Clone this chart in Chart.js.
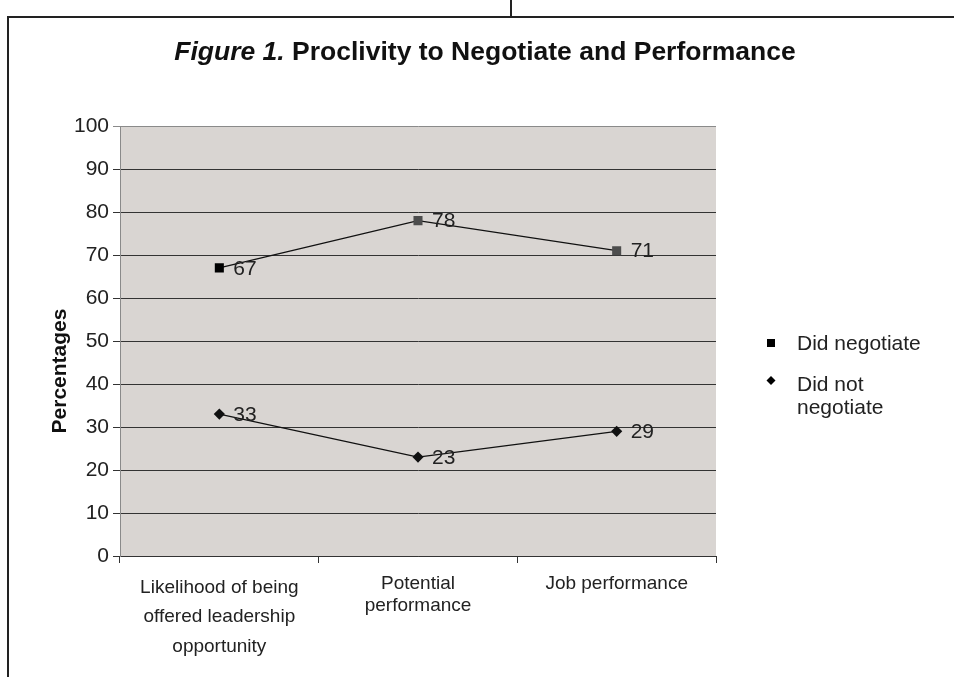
<!DOCTYPE html>
<html>
<head>
<meta charset="utf-8">
<script src="https://cdn.jsdelivr.net/npm/chart.js@4/dist/chart.umd.min.js"></script>
<style>
  html, body { margin: 0; padding: 0; background: #ffffff; }
  #wrap { position: relative; width: 954px; height: 677px; }
</style>
</head>
<body>
<div id="wrap"><canvas id="c"></canvas></div>
<script>
// ---- data ----
const categories = [
  ["Likelihood of being", "offered leadership", "opportunity"],
  ["Potential", "performance"],
  ["Job performance"]
];
const seriesNames = ["Did negotiate", "Did not negotiate"];
const didNegotiate = [67, 78, 71];
const didNotNegotiate = [33, 23, 29];
const yMin = 0, yMax = 100, yStep = 10;
const titleItalic = "Figure 1.";
const titleRest = " Proclivity to Negotiate and Performance";
const yTitle = "Percentages";
const legendLines = [["Did negotiate"], ["Did not", "negotiate"]];

const FONT = '"Liberation Sans", Arial, Helvetica, sans-serif';

const decorPlugin = {
  id: 'decor',
  beforeDraw(chart) {
    const ctx = chart.ctx;
    const a = chart.chartArea;
    ctx.save();
    // frame
    ctx.strokeStyle = '#222';
    ctx.lineWidth = 2;
    ctx.beginPath();
    ctx.moveTo(8, 677); ctx.lineTo(8, 17); ctx.lineTo(954, 17);
    ctx.moveTo(511, 0); ctx.lineTo(511, 17);
    ctx.stroke();
    // plot background
    ctx.fillStyle = '#d9d5d2';
    ctx.fillRect(a.left, a.top, a.right - a.left, a.bottom - a.top);
    ctx.restore();
  },
  afterDraw(chart) {
    const ctx = chart.ctx;
    ctx.save();
    // title
    ctx.fillStyle = '#111';
    ctx.textBaseline = 'middle';
    const fi = 'italic bold 26.5px ' + FONT;
    const fb = 'bold 26.5px ' + FONT;
    ctx.font = fi; const w1 = ctx.measureText(titleItalic).width;
    ctx.font = fb; const w2 = ctx.measureText(titleRest).width;
    let x0 = 485 - (w1 + w2) / 2;
    ctx.textAlign = 'left';
    ctx.font = fi; ctx.fillText(titleItalic, x0, 53);
    ctx.font = fb; ctx.fillText(titleRest, x0 + w1, 53);
    // y axis title
    ctx.save();
    ctx.translate(60, 371);
    ctx.rotate(-Math.PI / 2);
    ctx.textAlign = 'center';
    ctx.font = 'bold 21px ' + FONT;
    ctx.fillText(yTitle, 0, 0);
    ctx.restore();
    // legend
    ctx.font = '21px ' + FONT;
    ctx.textAlign = 'left';
    ctx.fillStyle = '#000';
    ctx.fillRect(767, 339, 8, 8);
    ctx.beginPath();
    ctx.moveTo(771, 376); ctx.lineTo(775.5, 380.5); ctx.lineTo(771, 385); ctx.lineTo(766.5, 380.5);
    ctx.closePath(); ctx.fill();
    ctx.fillStyle = '#222';
    ctx.fillText(legendLines[0][0], 797, 344);
    ctx.fillText(legendLines[1][0], 797, 385);
    ctx.fillText(legendLines[1][1], 797, 408);
    ctx.restore();
  },
  afterDatasetsDraw(chart) {
    const ctx = chart.ctx;
    ctx.save();
    ctx.font = '21px ' + FONT;
    ctx.fillStyle = '#222';
    ctx.textBaseline = 'middle';
    ctx.textAlign = 'left';
    chart.data.datasets.forEach((ds, di) => {
      const meta = chart.getDatasetMeta(di);
      meta.data.forEach((pt, i) => {
        ctx.fillText(String(ds.data[i]), pt.x + 14, pt.y + 1);
      });
    });
    ctx.restore();
  }
};

new Chart(document.getElementById('c'), {
  type: 'line',
  data: {
    labels: categories,
    datasets: [
      {
        label: seriesNames[0],
        data: didNegotiate,
        borderColor: '#111',
        borderWidth: 1.3,
        pointStyle: 'rect',
        pointRadius: 6.4,
        pointHoverRadius: 6.4,
        pointBackgroundColor: ['#000', '#4d4d4d', '#4d4d4d'],
        pointBorderColor: ['#000', '#4d4d4d', '#4d4d4d'],
        pointBorderWidth: 0,
        tension: 0,
        fill: false
      },
      {
        label: seriesNames[1],
        data: didNotNegotiate,
        borderColor: '#111',
        borderWidth: 1.3,
        pointStyle: 'rectRot',
        pointRadius: 5.6,
        pointHoverRadius: 5.6,
        pointBackgroundColor: '#111',
        pointBorderColor: '#111',
        pointBorderWidth: 0,
        tension: 0,
        fill: false
      }
    ]
  },
  options: {
    responsive: true,
    maintainAspectRatio: false,
    animation: false,
    events: [],
    layout: { padding: { top: 126, right: 238, bottom: 0, left: 0 } },
    plugins: {
      legend: { display: false },
      title: { display: false },
      tooltip: { enabled: false }
    },
    scales: {
      x: {
        type: 'category',
        offset: true,
        grid: {
          offset: true,
          drawOnChartArea: false,
          drawTicks: true,
          tickLength: 7,
          color: '#333',
          lineWidth: 1
        },
        border: { display: true, color: '#333', width: 1 },
        ticks: {
          color: '#222',
          padding: 10,
          maxRotation: 0,
          autoSkip: false,
          font: (ctx) => ({
            family: FONT,
            size: 19,
            lineHeight: ctx.index === 0 ? 1.55 : 1.15
          })
        },
        afterFit(scale) { scale.height = 121; }
      },
      y: {
        min: yMin,
        max: yMax,
        grid: {
          color: (ctx) => ctx.tick && ctx.tick.value === yMax ? '#8a8a8a' : '#333',
          lineWidth: 1,
          tickLength: 7,
          drawTicks: true
        },
        border: { display: true, color: '#8a8a8a', width: 1 },
        ticks: {
          stepSize: yStep,
          color: '#222',
          padding: 4,
          font: { family: FONT, size: 21 }
        },
        afterFit(scale) { scale.width = 120; }
      }
    }
  },
  plugins: [decorPlugin]
});
</script>
</body>
</html>
